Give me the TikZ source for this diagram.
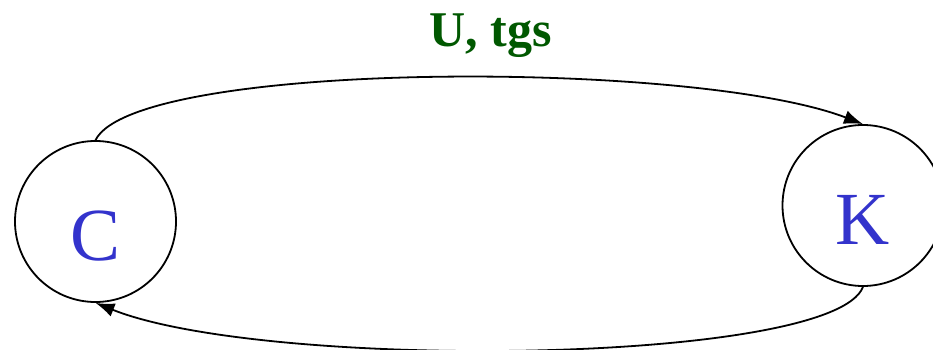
\documentclass[tikz,border=0pt]{standalone}
\usepackage{fontspec}
\setmainfont{Liberation Serif}
\usetikzlibrary{arrows.meta}
\definecolor{letterblue}{RGB}{51,51,204}
\definecolor{labelgreen}{RGB}{0,88,0}

\begin{document}
\begin{tikzpicture}[x=1pt,y=-1pt,line width=1.8pt,
    state/.style={draw,circle,minimum size=161pt,inner sep=0pt,
      text=letterblue,font=\fontsize{75}{75}\selectfont,
      text height=77pt,text depth=0pt},
    flow/.style={-{Latex[length=19pt,width=14pt]}}]
  \useasboundingbox (0,0) rectangle (933,350);
  \node[state] (C) at (95.5,221.5) {C};
  \node[state] (K) at (863,205.5) {K};
  \node[anchor=base,text=labelgreen,font=\fontsize{50}{50}\selectfont\bfseries] (lbl) at (491,47) {U, tgs};
  \draw[flow] (C.north) .. controls +(40,-80) and +(-170,-65) .. (K.north);
  \draw[flow] (K.south) .. controls +(-30,78) and +(170,68) .. (C.south);
\end{tikzpicture}
\end{document}
